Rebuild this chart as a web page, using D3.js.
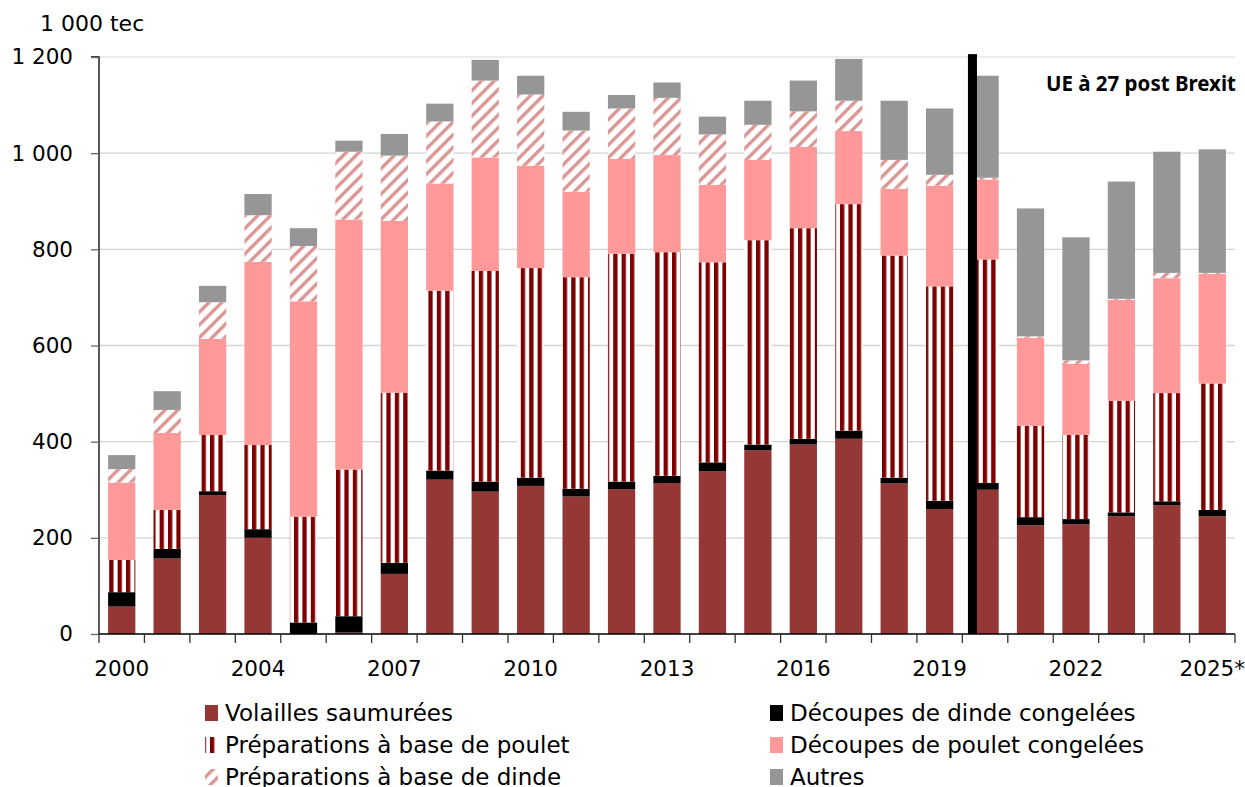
<!DOCTYPE html>
<html><head><meta charset="utf-8">
<script src="https://cdn.jsdelivr.net/npm/d3@7"></script>
<style>
body{margin:0;background:#fff}
svg{display:block}
text{font-family:"DejaVu Sans",sans-serif;fill:#000}
text.bold{font-family:"Noto Sans",sans-serif;font-weight:bold}
</style>
</head><body>
<svg id="chart" width="1245" height="787"></svg>
<script>
// ---------- DATA ----------
const categories = ["2000","2002","2003","2004","2005","2006","2007","2008","2009","2010","2011","2012","2013","2014","2015","2016","2017","2018","2019","2020","2021","2022","2023","2024","2025*"];
const tickLabels = ["2000","2004","2007","2010","2013","2016","2019","2022","2025*"];
const seriesNames = ["Volailles saumurées","Découpes de dinde congelées","Préparations à base de poulet","Découpes de poulet congelées","Préparations à base de dinde","Autres"];
const volaillesSaumurees   = [57,157,289,200,0,3,125,321,296,308,286,301,314,338,382,394,406,313,260,300,226,228,245,268,245];
const decoupesDinde        = [30,20,8,18,24,34,23,19,21,17,16,16,15,19,12,12,17,12,17,14,17,11,8,8,13];
const preparationsPoulet   = [67,81,117,175,220,305,354,374,438,436,440,474,465,416,425,438,471,462,446,465,190,175,232,225,263];
const decoupesPoulet       = [161,160,200,381,448,520,357,223,236,213,178,197,202,161,167,169,152,139,209,166,183,148,210,239,228];
const preparationsDinde    = [28,48,76,97,115,141,136,129,160,148,127,105,119,105,73,74,63,60,23,4,3,7,2,11,2];
const autres               = [29,39,34,44,37,23,45,37,43,39,39,28,32,37,50,64,87,123,138,212,266,256,244,252,257];
const yTicks = [0,200,400,600,800,1000,1200];
const unitLabel = "1 000 tec";
const breakCategory = "2020";
const breakLabel = "UE à 27 post Brexit";

// ---------- SETUP ----------
const svg = d3.select("#chart");
const margin = {left: 99, right: 10, top: 57, bottom: 153};
const W = 1245, H = 787;
const valuesBySeries = [volaillesSaumurees, decoupesDinde, preparationsPoulet, decoupesPoulet, preparationsDinde, autres];
const rows = categories.map((c, i) => {
  const r = {cat: c};
  seriesNames.forEach((s, j) => r[s] = valuesBySeries[j][i]);
  return r;
});

const x = d3.scaleBand().domain(categories).range([margin.left, W - margin.right]).paddingInner(0.4).paddingOuter(0.2);
const y = d3.scaleLinear().domain([0, 1200]).range([H - margin.bottom, margin.top]);

// patterns
const defs = svg.append("defs");
const pp = defs.append("pattern").attr("id","pPoulet").attr("patternUnits","userSpaceOnUse").attr("width",8.4).attr("height",8);
pp.append("rect").attr("width",8.4).attr("height",8).attr("fill","#fff");
pp.append("rect").attr("width",4.3).attr("height",8).attr("fill","#7f0000");
const pd = defs.append("pattern").attr("id","pDinde").attr("patternUnits","userSpaceOnUse").attr("width",9).attr("height",9).attr("patternTransform","rotate(45)");
pd.append("rect").attr("width",9).attr("height",9).attr("fill","#fff");
pd.append("rect").attr("width",3.4).attr("height",9).attr("fill","#da9694");

const fills = ["#953735","#000000","url(#pPoulet)","#ff9999","url(#pDinde)","#969696"];
const color = d3.scaleOrdinal().domain(seriesNames).range(fills);

// gridlines
svg.append("g").selectAll("line").data(yTicks.filter(d => d > 0)).join("line")
  .attr("x1", margin.left).attr("x2", W - margin.right)
  .attr("y1", d => y(d)).attr("y2", d => y(d))
  .attr("stroke", d => d === 1200 ? "#e6e6e6" : "#d4d4d4").attr("stroke-width", 1.4);

// bars
const stack = d3.stack().keys(seriesNames)(rows);
svg.append("g").selectAll("g").data(stack).join("g")
  .attr("fill", d => color(d.key))
  .selectAll("rect").data(d => d).join("rect")
  .attr("x", d => x(d.data.cat))
  .attr("width", x.bandwidth())
  .attr("y", d => y(d[1]))
  .attr("height", d => Math.max(0, y(d[0]) - y(d[1])));

// y axis
const fr = d3.formatLocale({decimal:",", thousands:"\u00a0", grouping:[3], currency:["","€"]});
const yAxis = d3.axisLeft(y).tickValues(yTicks).tickSize(8).tickPadding(18).tickFormat(fr.format(","));
const gy = svg.append("g").attr("transform", `translate(${margin.left},0)`).call(yAxis);
gy.select(".domain").attr("stroke","#000").attr("stroke-width",1.3).attr("d", `M-8,${y(1200)}H0V${y(0)}`);
gy.selectAll(".tick line").attr("stroke","#666").attr("stroke-width",1.3);
gy.selectAll(".tick text").attr("font-size",21.5).attr("fill","#000");

// x axis
const step = x.step();
const bounds = d3.range(categories.length + 1).map(i => margin.left + i * step);
const gx = svg.append("g");
gx.append("line").attr("x1", margin.left).attr("x2", W - margin.right).attr("y1", y(0)).attr("y2", y(0)).attr("stroke","#000").attr("stroke-width",1.5);
gx.selectAll("line.t").data(bounds).join("line").attr("class","t")
  .attr("x1", d => d).attr("x2", d => d).attr("y1", y(0)).attr("y2", y(0) + 9)
  .attr("stroke","#333").attr("stroke-width",1.3);
gx.selectAll("text").data(tickLabels).join("text")
  .attr("x", d => x(d) + x.bandwidth() / 2).attr("y", y(0) + 42)
  .attr("text-anchor","middle").attr("font-size",21.5).text(d => d);

// unit label
svg.append("text").attr("x", 40).attr("y", 31).attr("font-size",22).text(unitLabel);

// Brexit break line
svg.append("rect").attr("x", x(breakCategory) - 3.5).attr("width", 9)
  .attr("y", y(1206)).attr("height", y(0) - y(1206)).attr("fill","#000");
svg.append("text").attr("class","bold").attr("x", W - 9).attr("y", 91).attr("text-anchor","end")
  .attr("font-size",20.5).text(breakLabel);

// legend
const legend = svg.append("g");
const colX = [205, 770];
const rowY = [713, 745, 777];
seriesNames.forEach((s, i) => {
  const cx = colX[i % 2], cy = rowY[Math.floor(i / 2)];
  legend.append("rect").attr("x", cx).attr("y", cy - 8).attr("width", 13).attr("height", 16).attr("fill", color(s));
  legend.append("text").attr("x", cx + 20).attr("y", cy).attr("dy","0.35em").attr("font-size",23).text(s);
});
</script>
</body></html>
